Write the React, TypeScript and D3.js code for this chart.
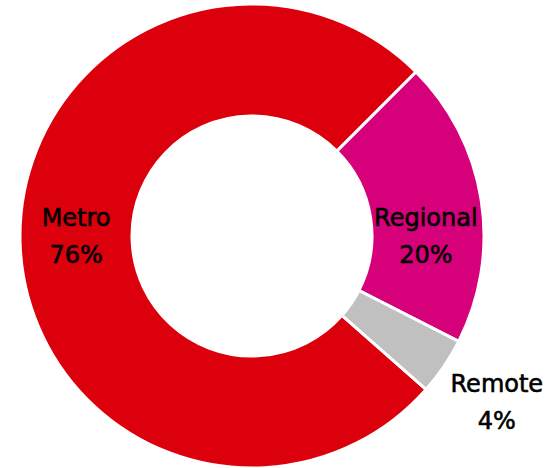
import { useEffect, useRef } from "react";
import { select, pie, arc } from "d3";

const categories = ["Metro", "Regional", "Remote"];
const shares = [76, 20, 4];
const colors = ["#dc000c", "#d6007a", "#c0c0c0"];

const width = 548;
const height = 468;
const cx = 252;
const cy = 236;
const outerR = 232;
const innerR = 120;

function App() {
  const svgRef = useRef(null);

  useEffect(() => {
    const svg = select(svgRef.current);
    svg.selectAll("*").remove();

    const data = categories.map((c, i) => ({ name: c, value: shares[i] }));

    // Metro starts after Regional + Remote, which begin at 45deg
    const start = Math.PI / 4 + ((shares[1] + shares[2]) / 100) * Math.PI * 2;
    const pieGen = pie()
      .value((d) => d.value)
      .sort(null)
      .startAngle(start)
      .endAngle(start + Math.PI * 2);

    const arcs = pieGen(data);
    const arcGen = arc().innerRadius(innerR).outerRadius(outerR);

    const g = svg.append("g").attr("transform", `translate(${cx},${cy})`);

    g.selectAll(".slice")
      .data(arcs)
      .join("path")
      .attr("class", "slice")
      .attr("d", arcGen)
      .attr("fill", (d, i) => colors[i])
      .attr("stroke", "#fff")
      .attr("stroke-width", 3)
      .attr("stroke-linejoin", "miter");

    const outsideArc = arc().innerRadius(296).outerRadius(296);

    const labels = g
      .selectAll(".label")
      .data(arcs)
      .join("text")
      .attr("class", "label")
      .attr("text-anchor", "middle")
      .attr("font-family", "'DejaVu Sans', sans-serif")
      .attr("font-size", 24)
      .attr("fill", "#000")
      .attr("stroke", "#000")
      .attr("stroke-width", 0.6)
      .attr("transform", (d) => {
        const inside = d.value >= 10;
        if (inside) {
          const [x] = arcGen.centroid(d);
          return `translate(${x},0)`;
        }
        const [x, y] = outsideArc.centroid(d);
        return `translate(${x},${y})`;
      });

    labels
      .append("tspan")
      .attr("x", 0)
      .attr("y", -10)
      .text((d) => d.data.name);
    labels
      .append("tspan")
      .attr("x", 0)
      .attr("y", 27)
      .text((d) => d.data.value + "%");
  }, []);

  return (
    <svg
      ref={svgRef}
      width={width}
      height={height}
      style={{ position: "absolute", left: 0, top: 0 }}
    />
  );
}

export default App;
